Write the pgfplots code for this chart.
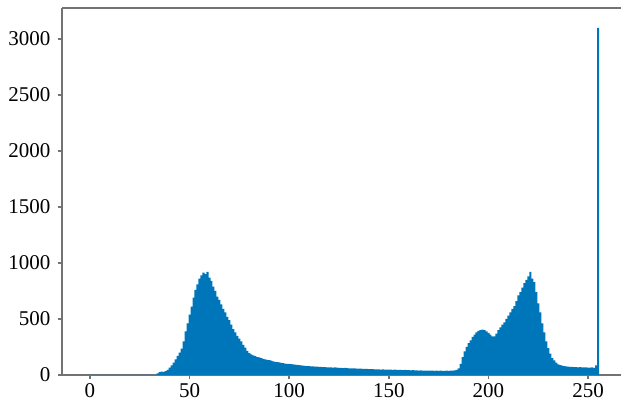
\documentclass[border=0pt]{standalone}
\usepackage{pgfplots}
\pgfplotsset{compat=1.18}
\usepackage{pgfplotstable}
\usepackage{fontspec}
\setmainfont{Liberation Serif}
\definecolor{barblue}{RGB}{0,118,186}
\definecolor{axgray}{RGB}{115,115,115}
\pgfplotstableread{
x y
0 0
1 0
2 0
3 0
4 0
5 0
6 0
7 0
8 0
9 0
10 0
11 0
12 0
13 0
14 0
15 0
16 0
17 0
18 0
19 0
20 0
21 0
22 0
23 0
24 0
25 0
26 0
27 0
28 0
29 0
30 0
31 0
32 0
33 0
34 15
35 25
36 30
37 28
38 35
39 45
40 65
41 85
42 110
43 140
44 170
45 200
46 235
47 300
48 390
49 460
50 540
51 610
52 690
53 760
54 810
55 860
56 890
57 915
58 900
59 920
60 870
61 840
62 790
63 750
64 700
65 670
66 630
67 590
68 560
69 520
70 490
71 450
72 410
73 380
74 350
75 325
76 300
77 270
78 245
79 215
80 195
81 185
82 175
83 168
84 160
85 158
86 150
87 145
88 140
89 136
90 132
91 128
92 122
93 118
94 115
95 112
96 108
97 105
98 102
99 100
100 100
101 97
102 95
103 92
104 90
105 88
106 86
107 84
108 82
109 80
110 79
111 78
112 76
113 75
114 74
115 73
116 72
117 70
118 71
119 69
120 68
121 68
122 66
123 67
124 65
125 64
126 64
127 62
128 63
129 61
130 60
131 60
132 58
133 59
134 57
135 56
136 57
137 55
138 54
139 55
140 53
141 52
142 53
143 51
144 50
145 51
146 49
147 50
148 48
149 48
150 47
151 48
152 46
153 47
154 45
155 46
156 45
157 44
158 45
159 43
160 44
161 42
162 43
163 41
164 42
165 40
166 41
167 40
168 39
169 40
170 38
171 39
172 38
173 37
174 39
175 37
176 38
177 37
178 36
179 38
180 37
181 38
182 40
183 42
184 45
185 60
186 100
187 160
188 210
189 250
190 285
191 310
192 340
193 360
194 380
195 395
196 400
197 405
198 400
199 390
200 375
201 360
202 345
203 345
204 370
205 400
206 425
207 450
208 470
209 500
210 530
211 560
212 590
213 615
214 660
215 710
216 740
217 780
218 820
219 850
220 880
221 920
222 860
223 830
224 740
225 640
226 560
227 460
228 380
229 300
230 240
231 190
232 150
233 130
234 110
235 95
236 88
237 84
238 80
239 78
240 74
241 72
242 73
243 70
244 71
245 69
246 70
247 68
248 67
249 69
250 66
251 65
252 67
253 64
254 85
255 3100
}\hist
\begin{document}
\begin{tikzpicture}
\begin{axis}[
  scale only axis,
  width=559pt, height=367pt,
  xmin=-14, xmax=266.5,
  ymin=0, ymax=3277,
  axis lines*=left,
  axis line style={axgray, line width=2.2pt},
  xtick={0,50,...,250},
  ytick={0,500,...,3000},
  tick align=outside,
  major tick length=4pt,
  tick style={axgray, line width=1.5pt},
  ticklabel style={font=\fontsize{21}{21}\selectfont},
  yticklabel style={xshift=-4pt},
  xticklabel style={yshift=-1pt},
  /pgf/number format/assume math mode=true,
  scaled y ticks=false,
  yticklabel style={/pgf/number format/1000 sep={}},
  xticklabel style={/pgf/number format/1000 sep={}},
  clip=false,
]
\addplot[ybar, bar width=1.03, fill=barblue, draw=none] table[x=x, y=y] {\hist};
\draw[axgray, line width=2.2pt] (rel axis cs:0,1) -- (rel axis cs:1,1);
\coordinate (ll) at (rel axis cs:0,0);
\coordinate (ur) at (rel axis cs:1,1);
\end{axis}
\pgfresetboundingbox
\path ([shift={(-62pt,-33pt)}]ll) rectangle ([shift={(0pt,8pt)}]ur);
\end{tikzpicture}
\end{document}
